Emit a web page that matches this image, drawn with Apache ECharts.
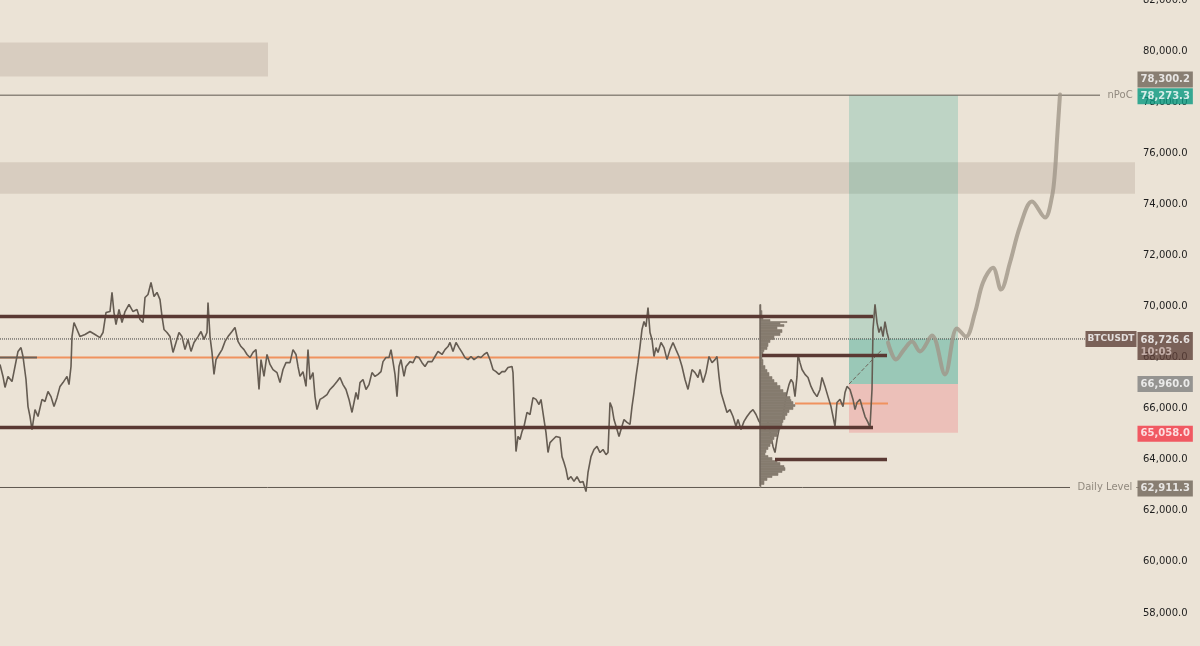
<!DOCTYPE html>
<html><head><meta charset="utf-8">
<script src="https://cdn.jsdelivr.net/npm/echarts@6/dist/echarts.min.js"></script>
<style>html,body{margin:0;padding:0;background:#ebe3d6;}#c{width:1200px;height:646px;}</style>
</head><body><div id="c"></div>
<script>
// ---- data ----
const timeMax = 1135;
const priceSeries = [[0,67730],[3,67260],[5,66830],[8,67260],[12,67060],[15,67650],[18,68240],[21,68390],[23,68040],[26,67140],[28,66080],[30,65690],[32,65180],[35,65960],[38,65690],[42,66360],[45,66280],[48,66670],[51,66470],[54,66080],[57,66430],[60,66870],[63,67020],[67,67260],[69,66940],[71,67650],[72,68820],[74,69370],[77,69100],[80,68820],[85,68900],[90,69020],[95,68900],[100,68780],[103,68980],[106,69760],[110,69800],[112,70550],[114,69760],[116,69290],[119,69880],[122,69370],[125,69800],[129,70080],[133,69800],[137,69880],[140,69490],[143,69370],[145,70350],[148,70470],[151,70940],[154,70390],[157,70550],[160,70270],[162,69610],[164,69100],[167,68980],[170,68820],[173,68200],[176,68590],[179,68980],[182,68820],[185,68310],[188,68710],[191,68240],[194,68590],[198,68820],[201,69020],[204,68710],[207,68980],[208,70150],[210,68820],[212,68200],[214,67340],[216,67920],[219,68120],[222,68310],[225,68630],[228,68820],[232,69020],[235,69180],[238,68630],[241,68430],[244,68310],[247,68120],[250,68000],[253,68200],[256,68310],[259,66750],[261,67920],[264,67260],[267,68120],[270,67730],[273,67530],[277,67410],[280,67020],[283,67530],[286,67800],[290,67800],[293,68310],[296,68120],[298,67650],[300,67260],[303,67450],[306,66870],[308,68310],[310,67140],[313,67410],[315,66470],[317,65960],[320,66360],[323,66430],[327,66550],[330,66750],[333,66870],[337,67060],[340,67220],[343,66940],[346,66750],[349,66360],[352,65850],[354,66240],[356,66630],[358,66360],[360,67020],[363,67140],[366,66750],[369,66940],[372,67410],[375,67260],[378,67340],[381,67450],[383,67840],[386,68000],[389,68000],[391,68310],[393,67840],[395,67340],[397,66470],[399,67650],[401,67920],[404,67260],[406,67650],[410,67840],[413,67800],[416,68040],[419,68000],[422,67800],[425,67650],[428,67840],[432,67840],[435,68040],[438,68240],[442,68120],[445,68310],[448,68430],[450,68590],[453,68240],[456,68590],[459,68390],[462,68200],[465,68000],[468,67920],[471,68040],[474,67920],[478,68040],[481,68000],[484,68120],[487,68200],[490,67920],[493,67530],[496,67450],[499,67340],[502,67450],[505,67450],[508,67610],[512,67650],[513,67410],[515,65300],[516,64320],[518,64910],[520,64790],[522,65100],[524,65300],[527,65850],[530,65770],[533,66430],[536,66360],[539,66160],[541,66360],[544,65570],[546,65060],[548,64280],[550,64670],[553,64790],[556,64910],[558,64870],[560,64870],[562,64120],[564,63890],[566,63620],[568,63220],[571,63340],[574,63150],[577,63340],[580,63110],[583,63150],[586,62750],[588,63500],[591,64120],[594,64400],[597,64520],[600,64280],[603,64400],[606,64200],[608,64280],[610,66240],[612,66040],[614,65570],[617,65180],[619,64910],[621,65180],[624,65570],[627,65460],[630,65380],[632,66080],[634,66630],[636,67260],[638,67800],[640,68430],[642,69100],[644,69410],[646,69210],[648,69960],[650,68980],[652,68710],[654,68040],[656,68390],[658,68200],[661,68590],[664,68390],[667,67920],[670,68310],[673,68590],[676,68310],[679,68040],[682,67650],[685,67140],[688,66750],[690,67140],[692,67530],[695,67410],[698,67220],[700,67530],[703,67020],[706,67410],[709,68040],[712,67800],[715,67920],[717,68040],[719,67260],[721,66630],[724,66240],[727,65850],[730,65960],[733,65690],[736,65300],[738,65570],[741,65180],[744,65500],[747,65690],[750,65850],[753,65960],[756,65770],[759,65500],[761,65500],[765,65180],[768,65460],[771,64910],[773,64520],[775,64280],[777,64790],[779,65180],[781,65460],[783,65690],[785,66240],[787,66630],[789,66940],[791,67140],[793,67020],[795,66470],[797,67260],[798,68120],[800,67800],[802,67530],[805,67340],[808,67220],[811,66870],[814,66630],[817,66470],[820,66750],[822,67220],[825,66870],[828,66470],[831,66080],[833,65690],[835,65300],[837,66240],[840,66360],[843,66080],[845,66630],[847,66870],[850,66750],[853,66360],[855,65960],[857,66240],[860,66360],[862,66080],[865,65690],[868,65460],[870,65260],[872,66750],[873,69100],[875,70080],[877,69370],[879,68980],[881,69210],[883,68820],[885,69410],[887,68980],[889,68670]];
const projectionSeries = [[888,68590],[896,67920],[904,68310],[912,68630],[920,68240],[932,68860],[945,67340],[957,69140],[966,68820],[975,69760],[983,70940],[993,71520],[1001,70660],[1010,71720],[1020,73130],[1032,74110],[1045,73480],[1052,74300],[1055,75300],[1057,76530],[1060,78300.2]];
const profileStart = 760;
const profileLevels = [70075,69840,69606,69488,69410,69371,69292,69214,69096,68979,68861,68705,68588,68431,68313,68235,68118,68039,67922,67843,67687,67531,67413,67256,67139,67021,66904,66747,66630,66473,66356,66278,66160,66082,65964,65847,65730,65573,65455,65299,65181,65064,64907,64790,64633,64516,64398,64281,64164,64085,63968,63890,63772,63694,63576,63498,63381,63302,63185,63028];
const profileVolumes = [1,2,3,10,27,20,24,17,22,20,14,10,8,7,4,3,2,2,3,3,5,7,9,12,14,17,20,23,26,30,31,33,35,33,29,27,25,23,22,20,18,17,14,12,10,8,6,5,8,12,17,20,24,25,22,18,12,7,4,1];
const rangeLevels = [69606, 65260, 68079, 64007];
const rangeFrom = [0, 0, 762, 775];
const rangeTo = [873, 873, 887, 887];
const pocLevels = [68000, 66199];
const pocFrom = [0, 795];
const pocTo = [762, 888];
const zoneLow = [79001, 74409];
const zoneHigh = [80333, 75646];
const zoneFrom = [0, 0];
const zoneTo = [268, 1135];
const nPoC = 78273.3;
const dailyLevel = 62911.3;
const lastPrice = 68726.6;
const countdown = '10:03';
const entryPrice = 66960.0;
const stopPrice = 65058.0;
const targetPrice = 78273.3;
const projectionEnd = 78300.2;
const positionFrom = 849, positionTo = 958;
const entryTrend = [[849, 66960], [882, 68310]];
const yMin = 56000, yMax = 82000, yStep = 2000;

// ---- helpers ----
const fmt = v => {
  const s = Math.abs(v).toFixed(1).split('.');
  return s[0].replace(/\B(?=(\d{3})+(?!\d))/g, ',') + '.' + s[1];
};
const FONT = 'DejaVu Sans';
function seg(data, color, width, type, z) {
  return {type:'line', data, symbol:'none', silent:true, z: z || 3,
    lineStyle:{color, width, type: type || 'solid'}, animation:false};
}
function rectSeries(items, fill, z) {
  return {type:'custom', silent:true, z: z || 1, clip:false,
    data: items,
    renderItem: (params, api) => {
      const a = api.coord([api.value(0), api.value(3)]);
      const b = api.coord([api.value(1), api.value(2)]);
      return {type:'rect', shape:{x:a[0], y:a[1], width:b[0]-a[0], height:b[1]-a[1]}, style:{fill}};
    }};
}
function tag(x, value, text, bg, offY, extra) {
  return {type:'scatter', symbolSize:1, clip:false, silent:true, z:20,
    itemStyle:{color:'rgba(0,0,0,0)'}, data:[[x, value]],
    label:Object.assign({show:true, position:'right', distance:2, formatter:text,
      backgroundColor:bg, color:'#ffffff', fontWeight:'bold', fontSize:10, fontFamily:FONT,
      lineHeight:11, padding:[3,3,2,3], offset:[0, offY || 0]}, extra || {})};
}

const series = [];
series.push(rectSeries(zoneLow.map((l,i)=>[zoneFrom[i], zoneTo[i], l, zoneHigh[i]]), 'rgba(140,118,104,0.2)', 1));
series.push(rectSeries([[positionFrom, positionTo, entryPrice, targetPrice]], 'rgba(8,153,129,0.2)', 1));
series.push(rectSeries([[positionFrom, positionTo, stopPrice, entryPrice]], 'rgba(242,54,69,0.2)', 1));
series.push(rectSeries([[positionFrom, positionTo, entryPrice, lastPrice]], 'rgba(8,153,129,0.2)', 1));
series.push(seg([[0, nPoC],[1100, nPoC]], '#5f5850', 1, 'solid', 2));
series.push(seg([[0, dailyLevel],[1070, dailyLevel]], '#5f5850', 1, 'solid', 2));
series.push(seg([[0, lastPrice],[1085, lastPrice]], '#3a3a3a', 1, 'dotted', 2));
pocLevels.forEach((p,i)=>series.push(seg([[pocFrom[i], p],[pocTo[i], p]], '#f0925e', 2, 'solid', 3)));
series.push(seg([[0, pocLevels[0]],[37, pocLevels[0]]], '#6e6258', 2, 'solid', 4));
rangeLevels.forEach((p,i)=>series.push(seg([[rangeFrom[i], p],[rangeTo[i], p]], '#5a3933', 3.5, 'solid', 6)));
series.push({type:'custom', silent:true, z:5, clip:false,
  data: profileLevels.map((p,i)=>[profileStart, p, profileVolumes[i], i < profileLevels.length-1 ? profileLevels[i+1] : p-120]),
  renderItem: (params, api) => {
    const a = api.coord([api.value(0), api.value(1)]);
    const b = api.coord([api.value(0) + api.value(2), api.value(3)]);
    return {type:'rect', shape:{x:a[0], y:a[1], width:b[0]-a[0], height:b[1]-a[1]},
      style:{fill:'#857b6e', stroke:'#857b6e', lineWidth:0.6}};
  }});
series.push(seg([[profileStart, profileLevels[0]],[profileStart, profileLevels[profileLevels.length-1]-60]], '#6a6158', 1.2, 'solid', 5));
series.push(seg(priceSeries, '#655c52', 1.6, 'solid', 4));
series.push(seg(entryTrend, '#6e655b', 1, 'dashed', 4));
series.push({type:'line', data:projectionSeries, symbol:'none', silent:true, z:7, smooth:0.35,
  lineStyle:{color:'rgba(160,150,136,0.8)', width:4, cap:'round', join:'round'}, animation:false});
series.push(tag(1100, nPoC, 'nPoC  -', 'transparent', 0, {color:'#7b7369', fontWeight:'normal', distance:4}));
series.push(tag(1070, dailyLevel, 'Daily Level -', 'transparent', 0, {color:'#7b7369', fontWeight:'normal', distance:4}));
series.push(tag(1085, lastPrice, 'BTCUSDT', '#5e4038', 0, {distance:0, fontSize:9, padding:[3,2,2,2]}));
series.push(tag(timeMax, projectionEnd, fmt(projectionEnd), '#6f6459', -15));
series.push(tag(timeMax, targetPrice, fmt(targetPrice), '#089981', 1));
series.push(tag(timeMax, entryPrice, fmt(entryPrice), '#808080', 0));
series.push(tag(timeMax, stopPrice, fmt(stopPrice), '#f23645', 1));
series.push(tag(timeMax, dailyLevel, fmt(dailyLevel), '#6f6459', 1));
series.push(tag(timeMax, lastPrice, '{a|' + fmt(lastPrice) + '}\n{b|' + countdown + '}', '#5e4038', 7,
  {rich:{a:{color:'#ffffff', fontWeight:'bold', fontSize:10, fontFamily:FONT, lineHeight:12},
         b:{color:'#d8c4bf', fontWeight:'bold', fontSize:10, fontFamily:FONT, lineHeight:12}}, padding:[2,3,2,3]}));

const chart = echarts.init(document.getElementById('c'), null, {renderer:'canvas'});
chart.setOption({
  backgroundColor:'#ebe3d6',
  animation:false,
  textStyle:{fontFamily:FONT},
  grid:{left:0, right:65, top:0, height:664, containLabel:false, outerBoundsMode:'none'},
  xAxis:{type:'value', min:0, max:timeMax, show:false},
  yAxis:{type:'value', position:'right', min:yMin, max:yMax, interval:yStep,
    axisLine:{show:false}, axisTick:{show:false}, splitLine:{show:false},
    axisLabel:{color:'#1e1e1e', fontSize:10, fontFamily:FONT, margin:8, formatter:v=>fmt(v)}},
  series
});
</script></body></html>
